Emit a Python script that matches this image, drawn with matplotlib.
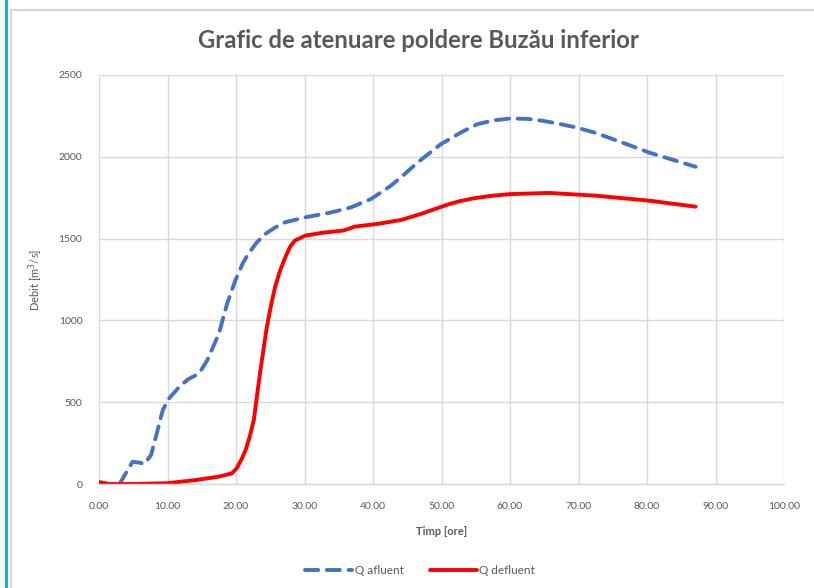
import matplotlib
matplotlib.use("Agg")
import matplotlib.pyplot as plt
from matplotlib.lines import Line2D

plt.rcParams['font.family'] = ['Lato', 'DejaVu Sans']

# Inflow hydrograph (Q afluent)
t_afluent = [3.0, 4.9, 6.0, 6.6, 7.6, 8.5, 9.3, 10.2, 11.7, 13.0, 14.6, 15.8,
             17.5, 18.7, 19.9, 21.0, 21.8, 23.0, 24.3, 25.8, 27.2, 30.1, 33.9,
             36.8, 39.7, 42.6, 44.5, 46.5, 49.9, 52.8, 55.2, 57.5, 60.0, 62.5,
             64.8, 67.0, 69.7, 72.5, 75.0, 77.5, 80.3, 83.5, 87.1]
q_afluent = [0, 136, 130, 122, 177, 320, 451, 522, 593, 640, 675, 756,
             919, 1102, 1244, 1350, 1407, 1475, 1529, 1570, 1600, 1630, 1660,
             1691, 1742, 1823, 1890, 1965, 2077, 2148, 2199, 2222, 2234, 2232,
             2220, 2203, 2179, 2146, 2108, 2070, 2026, 1985, 1939]

# Outflow hydrograph (Q defluent)
t_defluent = [0.0, 1.5, 5.0, 10.0, 14.1, 17.5, 19.4, 20.1, 20.8, 21.4, 22.0,
              22.6, 23.0, 23.5, 24.0, 24.5, 25.1, 25.7, 26.4, 27.2, 27.9, 28.6,
              30.1, 32.5, 35.6, 36.5, 37.3, 40.7, 44.1, 47.0, 49.0, 50.9, 52.6,
              54.5, 57.0, 60.0, 65.8, 72.6, 80.3, 87.1]
q_defluent = [12, 0, 0, 5, 24, 45, 65, 96, 150, 207, 290,
              390, 520, 675, 820, 959, 1090, 1203, 1300, 1386, 1450, 1488,
              1518, 1535, 1549, 1560, 1573, 1590, 1614, 1651, 1680, 1708, 1728,
              1745, 1760, 1772, 1779, 1762, 1732, 1695]

x_ticks = [0, 10, 20, 30, 40, 50, 60, 70, 80, 90, 100]
y_ticks = [0, 500, 1000, 1500, 2000, 2500]

blue = '#4472C4'
red = '#FF0000'
text_gray = '#595959'
grid_gray = '#D9D9D9'

fig = plt.figure(figsize=(8.14, 5.88), dpi=100)

# chart frame and left accent bar
fig.add_artist(Line2D([6 / 814, 6 / 814], [0, 1], color='#1EA7E8', lw=2.2,
                      transform=fig.transFigure))
fig.add_artist(Line2D([11 / 814, 11 / 814], [0, 1 - 10 / 588], color='#D6D6D6',
                      lw=1.6, transform=fig.transFigure))
fig.add_artist(Line2D([11 / 814, 1], [1 - 10 / 588, 1 - 10 / 588], color='#D6D6D6',
                      lw=1.6, transform=fig.transFigure))

ax = fig.add_axes([99 / 814, 1 - 484 / 588, (784 - 99) / 814, (484 - 75) / 588])

ax.plot(t_afluent, q_afluent, color=blue, lw=2.8, linestyle=(0, (3.4, 2.2)),
        dash_capstyle='round', solid_joinstyle='round', label='Q afluent')
ax.plot(t_defluent, q_defluent, color=red, lw=2.8, solid_capstyle='round',
        solid_joinstyle='round', label='Q defluent')

ax.set_xlim(0, 100)
ax.set_ylim(0, 2500)
ax.set_xticks(x_ticks)
ax.set_xticklabels([f'{v:.2f}' for v in x_ticks])
ax.set_yticks(y_ticks)
ax.set_yticklabels([str(v) for v in y_ticks])
ax.grid(True, color=grid_gray, lw=1.0)
ax.set_axisbelow(True)
for side in ['top', 'right', 'left']:
    ax.spines[side].set_visible(False)
ax.spines['bottom'].set_color(grid_gray)
ax.spines['bottom'].set_linewidth(1.0)
ax.tick_params(axis='x', length=0, labelsize=7.5, colors=text_gray, pad=13)
ax.tick_params(axis='y', length=0, labelsize=7.5, colors=text_gray, pad=12)

ax.set_xlabel('Timp [ore]', fontsize=8, color=text_gray, fontweight='bold', labelpad=11)
ax.set_ylabel('Debit [m$^3$/s]', fontsize=8, color=text_gray, labelpad=10)

fig.text(418 / 814, 1 - 40 / 588, 'Grafic de atenuare poldere Buzău inferior',
         ha='center', va='center', fontsize=17.2, fontweight='bold', color=text_gray)

ax.legend(loc='center', bbox_to_anchor=(420 / 814, 1 - 571 / 588),
          bbox_transform=fig.transFigure, ncol=2, frameon=False, fontsize=8.5,
          labelcolor=text_gray, handlelength=4.0, columnspacing=2.2,
          handletextpad=0.2)

fig.savefig('out.png', dpi=100, facecolor='white')
